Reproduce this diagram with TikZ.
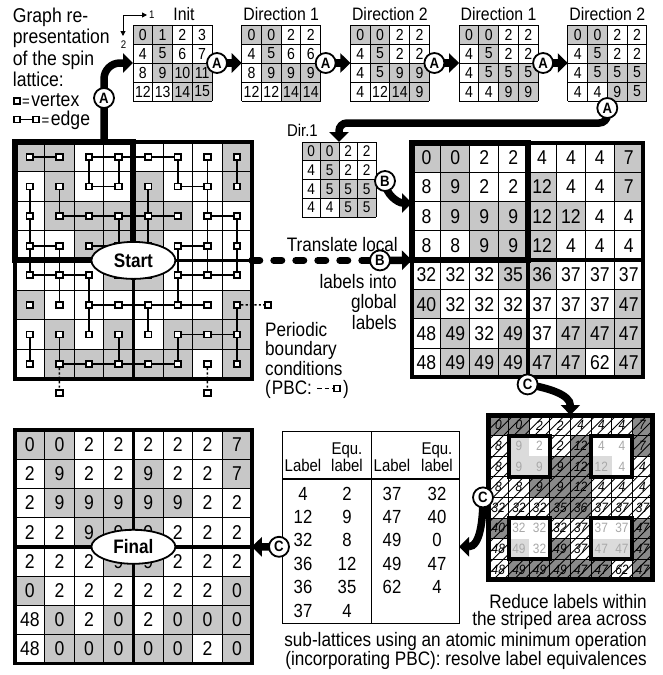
\documentclass[tikz,border=0pt]{standalone}
\usepackage{fontspec}
\setmainfont{Liberation Sans}[FakeStretch=0.88]
\usetikzlibrary{arrows.meta,shapes.geometric}
\definecolor{cellgray}{gray}{0.78}
\definecolor{darkcell}{gray}{0.54}
\definecolor{palecell}{gray}{0.86}
\definecolor{paletext}{gray}{0.66}
\newcommand\fs[1]{\fontsize{#1}{#1}\selectfont}
\def\SpinArr{{1,1,0,0,0,0,0,1,0,1,0,0,1,0,0,1,0,1,1,1,1,1,0,0,0,0,1,1,1,0,0,0,0,0,0,1,1,0,0,0,1,0,0,0,0,0,0,1,0,1,0,1,0,1,1,1,0,1,1,1,1,1,0,1}}
\def\LabArr{{0,0,2,2,4,4,4,7,8,9,2,2,12,4,4,7,8,9,9,9,12,12,4,4,8,8,9,9,12,4,4,4,32,32,32,35,36,37,37,37,40,32,32,32,37,37,37,47,48,49,32,49,37,47,47,47,48,49,49,49,47,47,62,47}}
% #1 name #2 x0 #3 y0 #4 cw #5 ch #6 n #7 fontsize #8 values
\newcommand\numgrid[8]{%
  \node[inner sep=0pt,outer sep=0pt,minimum width={#6*#4},minimum height={#6*#5},anchor=north west] (#1) at (#2,#3) {};
  \foreach \v [count=\i from 0] in {#8} {%
    \pgfmathtruncatemacro{\myR}{div(\i,#6)}%
    \pgfmathtruncatemacro{\myC}{mod(\i,#6)}%
    \pgfmathtruncatemacro{\myS}{\SpinArr[\myR*8+\myC]}%
    \ifnum\myS=1 \fill[cellgray] ({#2+\myC*#4},{#3+\myR*#5}) rectangle ++(#4,#5);\fi
    \node[inner sep=0pt,font=\fs{#7}] (#1-\myR-\myC) at ({#2+(\myC+0.5)*#4},{#3+(\myR+0.5)*#5}) {\v};
  }%
  \foreach \k in {0,...,#6} {%
    \draw[gridline] ({#2+\k*#4},#3) -- ++(0,{#6*#5});
    \draw[gridline] (#2,{#3+\k*#5}) -- ++({#6*#4},0);
  }%
}
\tikzset{
  gridline/.style={line width=1pt},
  bigarrow/.style={line width=7.5pt,-{Triangle[length=10pt,width=19pt]}},
  dashline/.style={line width=7pt,dash pattern=on 8pt off 14pt,line cap=round},
  markc/.style={circle,draw,line width=1.8pt,fill=white,minimum size=20pt,inner sep=0pt,font=\fs{15}\bfseries},
  vtx/.style={rectangle,draw,line width=1.8pt,fill=white,minimum width=6.5pt,minimum height=6pt,inner sep=0pt},
  edgeline/.style={line width=1.8pt},
  pbc/.style={line width=1.6pt,dash pattern=on 2.2pt off 2.2pt},
  pbclegend/.style={line width=1.6pt,dash pattern=on 4.5pt off 3pt},
  oval/.style={ellipse,draw,line width=1.8pt,fill=white,minimum width=84pt,minimum height=37pt,inner sep=0pt,font=\fs{19.5}\bfseries},
  txt/.style={inner sep=0pt,font=\fs{19.5}},
}
\begin{document}
\begin{tikzpicture}[x=1pt,y=-1pt]
\useasboundingbox (0,0) rectangle (663,675);

% ---------- top-left text and legend
\node[txt,font=\fs{20},anchor=base west] (t1) at (12.7,22.7) {Graph re-};
\node[txt,font=\fs{20},anchor=base west] (t2) at (12.7,43.7) {presentation};
\node[txt,font=\fs{20},anchor=base west] (t3) at (12.7,65) {of the spin};
\node[txt,font=\fs{20},anchor=base west] (t4) at (12.7,86.7) {lattice:};
\node[vtx] (lv) at (17,101) {};
\node[txt,font=\fs{20},anchor=base west] (lvt) at (22,106.7) {{\fs{15}=}\kern1.5pt vertex};
\node[vtx] (le1) at (17,119.5) {};
\node[vtx] (le2) at (36,119.5) {};
\draw[edgeline] (le1) -- (le2);
\node[txt,font=\fs{20},anchor=base west] (let) at (41.5,125) {{\fs{15}=}\kern1.5pt edge};

% ---------- axis indicator
\coordinate (axO) at (123,15);
\coordinate (axX) at (147,15);
\coordinate (axY) at (123,36);
\draw[line width=1pt,-{Triangle[length=5pt,width=5pt]}] (axO) -- (axX);
\draw[line width=1pt,-{Triangle[length=5pt,width=5pt]}] (axO) -- (axY);
\node[txt,font=\fs{11},anchor=base west] (ax1) at (149,18.5) {1};
\node[txt,font=\fs{11},anchor=base] (ax2) at (123.5,48) {2};

% ---------- small grids
\numgrid{gInit}{133}{25}{19.75}{19}{4}{16}{0,1,2,3,4,5,6,7,8,9,10,11,12,13,14,15}
\numgrid{gDa}{241.7}{25}{19.75}{19}{4}{16}{0,0,2,2,4,5,6,6,8,9,9,9,12,12,14,14}
\numgrid{gDb}{350.4}{25}{19.75}{19}{4}{16}{0,0,2,2,4,5,2,2,4,5,9,9,4,12,14,9}
\numgrid{gDc}{459.1}{25}{19.75}{19}{4}{16}{0,0,2,2,4,5,2,2,4,5,5,5,4,4,9,9}
\numgrid{gDd}{567.8}{25}{19.75}{19}{4}{16}{0,0,2,2,4,5,2,2,4,5,5,5,4,4,9,5}
\numgrid{gDir}{302}{142}{18.5}{18.75}{4}{15.5}{0,0,2,2,4,5,2,2,4,5,5,5,4,4,5,5}

\node[txt,font=\fs{18},anchor=base] (tInit) at (184,20.7) {Init};
\node[txt,font=\fs{18},anchor=base] (tDa) at (gDa.north |- 0,20.7) {Direction 1};
\node[txt,font=\fs{18},anchor=base] (tDb) at (gDb.north |- 0,20.7) {Direction 2};
\node[txt,font=\fs{18},anchor=base] (tDc) at (gDc.north |- 0,20.7) {Direction 1};
\node[txt,font=\fs{18},anchor=base] (tDd) at (gDd.north |- 0,20.7) {Direction 2};
\node[txt,font=\fs{17},anchor=base east] (tDir) at (318,136.5) {Dir.1};

% ---------- left lattice
\node[inner sep=0pt,outer sep=0pt,minimum width=236.8,minimum height=236.8,anchor=north west] (lat) at (15,142) {};
\foreach \i in {0,...,63} {%
  \pgfmathtruncatemacro{\myR}{div(\i,8)}%
  \pgfmathtruncatemacro{\myC}{mod(\i,8)}%
  \pgfmathtruncatemacro{\myS}{\SpinArr[\i]}%
  \ifnum\myS=1 \fill[cellgray] ({15+\myC*29.6},{142+\myR*29.6}) rectangle ++(29.6,29.6);\fi
}
\foreach \k in {0,...,8} {%
  \draw[gridline] ({15+\k*29.6},142) -- ++(0,236.8);
  \draw[gridline] (15,{142+\k*29.6}) -- ++(236.8,0);
}
\draw[line width=3.5pt] (lat.north west) rectangle (lat.south east);
\draw[line width=3.5pt] (lat.north) -- (lat.south);
\draw[line width=3.5pt] (lat.west) -- (lat.east);
\draw[line width=6pt] (lat.north west) rectangle (lat.center);

\foreach \r in {1,...,8} \foreach \c in {1,...,8} {%
  \node[vtx] (v-\r-\c) at ({15+(\c-0.5)*29.6},{142+(\r-0.5)*29.6}) {};
}
\foreach \a/\b in {1-1/1-2,1-3/1-4,1-4/1-5,1-5/1-6,2-3/2-4,2-6/2-7,3-2/3-3,3-3/3-4,3-4/3-5,3-5/3-6,3-7/3-8,4-1/4-2,4-3/4-4,4-6/4-7,5-1/5-2,5-2/5-3,5-6/5-7,5-7/5-8,6-3/6-4,6-4/6-5,6-5/6-6,6-6/6-7,7-6/7-7,7-7/7-8,8-2/8-3,8-3/8-4,8-4/8-5,8-5/8-6,
  1-3/2-3,1-4/2-4,1-6/2-6,1-7/2-7,1-8/2-8,2-1/3-1,3-1/4-1,2-2/3-2,2-5/3-5,2-7/3-7,3-4/4-4,3-5/4-5,3-7/4-7,3-8/4-8,4-1/5-1,4-2/5-2,4-6/5-6,4-7/5-7,4-8/5-8,5-2/6-2,5-3/6-3,5-6/6-6,6-3/7-3,6-5/7-5,6-8/7-8,7-8/8-8,7-1/8-1,7-2/8-2,7-4/8-4,7-6/8-6}
  {\draw[edgeline] (v-\a) -- (v-\b);}
\node[vtx] (ext1) at (268,304.8) {};
\node[vtx] (ext2) at (59.4,393) {};
\node[vtx] (ext3) at (207.4,393) {};
\draw[pbc] (v-6-8) -- (ext1);
\draw[pbc] (v-8-2) -- (ext2);
\draw[pbc] (v-8-7) -- (ext3);

% ---------- PBC text
\node[txt,anchor=base west] (p1) at (265,336) {Periodic};
\node[txt,anchor=base west] (p2) at (265,355.5) {boundary};
\node[txt,anchor=base west] (p3) at (265,375) {conditions};
\node[txt,anchor=base west] (p4) at (265,394.5) {(\kern1pt PBC:};
\node[vtx] (pv) at (337,388.5) {};
\coordinate (pa) at (317,388.5);
\draw[pbclegend] (pa) -- (pv);
\node[txt,anchor=base west] (p5) at (343,394.5) {)};

% ---------- translate text
\node[txt,anchor=base east] (tr1) at (398,251.7) {Translate local};
\node[txt,anchor=base east] (tr2) at (397,288) {labels into};
\node[txt,anchor=base east] (tr3) at (397,308) {global};
\node[txt,anchor=base east] (tr4) at (397,329) {labels};

% ---------- right grid (global labels)
\numgrid{gR}{412}{143}{28.9}{29.3}{8}{20}{0,0,2,2,4,4,4,7,8,9,2,2,12,4,4,7,8,9,9,9,12,12,4,4,8,8,9,9,12,4,4,4,32,32,32,35,36,37,37,37,40,32,32,32,37,37,37,47,48,49,32,49,37,47,47,47,48,49,49,49,47,47,62,47}
\draw[line width=4pt] (gR.north west) rectangle (gR.south east);
\draw[line width=4pt] (gR.north) -- (gR.south);
\draw[line width=4pt] (gR.west) -- (gR.east);
\draw[line width=6pt] (gR.north west) rectangle (gR.center);

% ---------- final grid
\numgrid{gF}{15}{430}{29.6}{29.2}{8}{20}{0,0,2,2,2,2,2,7,2,9,2,2,9,2,2,7,2,9,9,9,9,9,2,2,2,2,9,9,9,2,2,2,2,2,2,9,9,2,2,2,0,2,2,2,2,2,2,0,48,0,2,0,2,0,0,0,48,0,0,0,0,0,2,0}
\draw[line width=3.5pt] (gF.north west) rectangle (gF.south east);
\draw[line width=3.5pt] (gF.north) -- (gF.south);
\draw[line width=3.5pt] (gF.west) -- (gF.east);

% ---------- striped grid
\node[inner sep=0pt,outer sep=0pt,minimum width=164.8,minimum height=164.8,anchor=north west] (gS) at (488,415) {};
\foreach \i in {0,...,63} {%
  \pgfmathtruncatemacro{\myR}{div(\i,8)}%
  \pgfmathtruncatemacro{\myC}{mod(\i,8)}%
  \pgfmathtruncatemacro{\myS}{\SpinArr[\i]}%
  \pgfmathtruncatemacro{\myV}{\LabArr[\i]}%
  \pgfmathtruncatemacro{\myIn}{and(or(mod(\myR,4)==1,mod(\myR,4)==2),or(mod(\myC,4)==1,mod(\myC,4)==2))}%
  \ifnum\myS=1 \fill[darkcell] ({488+\myC*20.6},{415+\myR*20.6}) rectangle ++(20.6,20.6);\fi
  \ifnum\myIn=0
    \node[inner sep=0pt,font=\fs{13.5}\itshape] (gS-\myR-\myC) at ({488+(\myC+0.5)*20.6},{415+(\myR+0.5)*20.6}) {\myV};
  \fi
}
\begin{scope}
  \clip (488,415) rectangle (652.8,579.8);
  \foreach \k in {0,...,32} {%
    \pgfmathsetmacro{\hc}{908.15+\k*10.3}%
    \draw[line width=0.9pt] ({\hc-700},700) -- ({\hc-300},300);
  }
\end{scope}
\foreach \k in {0,...,8} {%
  \draw[line width=0.8pt] ({488+\k*20.6},415) -- ++(0,164.8);
  \draw[line width=0.8pt] (488,{415+\k*20.6}) -- ++(164.8,0);
}
\draw[line width=1.6pt] (gS.north) -- (gS.south);
\draw[line width=1.6pt] (gS.west) -- (gS.east);
\foreach \rb/\cb in {1/1,1/5,5/1,5/5} {%
  \foreach \dr in {0,1} \foreach \dc in {0,1} {%
    \pgfmathtruncatemacro{\myR}{\rb+\dr}%
    \pgfmathtruncatemacro{\myC}{\cb+\dc}%
    \pgfmathtruncatemacro{\myS}{\SpinArr[\myR*8+\myC]}%
    \pgfmathtruncatemacro{\myV}{\LabArr[\myR*8+\myC]}%
    \ifnum\myS=1 \fill[palecell] ({488+\myC*20.6},{415+\myR*20.6}) rectangle ++(20.6,20.6);
    \else \fill[white] ({488+\myC*20.6},{415+\myR*20.6}) rectangle ++(20.6,20.6);\fi
    \node[inner sep=0pt,font=\fs{13.5},text=paletext] (gSb-\myR-\myC) at ({488+(\myC+0.5)*20.6},{415+(\myR+0.5)*20.6}) {\myV};
  }
  \draw[line width=4pt] ({488+\cb*20.6},{415+\rb*20.6}) rectangle ++(41.2,41.2);
}
\draw[line width=5pt] (gS.north west) rectangle (gS.south east);

% ---------- table
\node[draw,line width=1.3pt,inner sep=0pt,minimum width=177pt,minimum height=192pt,anchor=north west] (tab) at (282,431) {};
\draw[line width=1.3pt] (tab.north) -- (tab.south);
\coordinate (tabHL) at (282,479);
\coordinate (tabHR) at (459,479);
\draw[line width=1.3pt] (tabHL) -- (tabHR);
\node[txt,font=\fs{17},anchor=base] (h1) at (303,471) {Label};
\node[txt,font=\fs{17},anchor=base] (h2) at (347,454) {Equ.};
\node[txt,font=\fs{17},anchor=base] (h3) at (347,471) {label};
\node[txt,font=\fs{17},anchor=base] (h4) at (392,471) {Label};
\node[txt,font=\fs{17},anchor=base] (h5) at (437,454) {Equ.};
\node[txt,font=\fs{17},anchor=base] (h6) at (437,471) {label};
\foreach \a/\b [count=\k from 0] in {4/2,12/9,32/8,36/12,36/35,37/4} {%
  \node[txt,font=\fs{19},anchor=base] (tla\k) at (303,{500+\k*23.4}) {\a};
  \node[txt,font=\fs{19},anchor=base] (tlb\k) at (347,{500+\k*23.4}) {\b};
}
\foreach \a/\b [count=\k from 0] in {37/32,47/40,49/0,49/47,62/4} {%
  \node[txt,font=\fs{19},anchor=base] (tra\k) at (392,{500+\k*23.4}) {\a};
  \node[txt,font=\fs{19},anchor=base] (trb\k) at (437,{500+\k*23.4}) {\b};
}

% ---------- bottom right text
\node[txt,anchor=base east] (r1) at (647,608.3) {Reduce labels within};
\node[txt,anchor=base east] (r2) at (647,625.5) {the striped area across};
\node[txt,anchor=base east] (r3) at (647,646.7) {sub-lattices using an atomic minimum operation};
\node[txt,anchor=base east] (r4) at (647,665) {(incorporating PBC): resolve label equivalences};

% ---------- arrows
\coordinate (aStart) at (104,142);
\draw[bigarrow,rounded corners=16pt] (aStart) |- (gInit.west);
\coordinate (pA1) at ([xshift=5pt]gInit.east);
\coordinate (pA2) at ([xshift=5pt]gDa.east);
\coordinate (pA3) at ([xshift=5pt]gDb.east);
\coordinate (pA4) at ([xshift=5pt]gDc.east);
\coordinate (pA5) at ([yshift=-7pt]gDd.south);
\draw[bigarrow] (pA1) -- (gDa.west);
\draw[bigarrow] (pA2) -- (gDb.west);
\draw[bigarrow] (pA3) -- (gDc.west);
\draw[bigarrow] (pA4) -- (gDd.west);
\coordinate (turn) at (339,123);
\draw[bigarrow,rounded corners=8pt] (pA5) |- (turn) -- (gDir.north);
\coordinate (pB1) at (385,181);
\coordinate (bTip) at (412,203);
\draw[bigarrow] (pB1) to[out=-90,in=180] (bTip);
\coordinate (pB2) at (380,260.4);
\draw[dashline] (lat.east) -- (pB2);
\draw[bigarrow] (pB2) -- (gR.west);
\coordinate (pC1) at ([yshift=-7pt]gR.south);
\draw[bigarrow] (pC1) to[out=-10,in=90] (gS.north);
\coordinate (pC2) at ([xshift=-5pt]gS.west);
\coordinate (tabR) at (459,546.8);
\draw[bigarrow] (pC2) to[out=-90,in=0] (tabR);
\coordinate (pC3) at (279,546.8);
\draw[bigarrow] (pC3) -- (gF.east);

% ---------- ovals and markers
\node[oval] (start) at (lat.center) {Start};
\node[oval,minimum height=34pt] (final) at (gF.center) {Final};
\node[markc] (cA0) at (104,98) {A};
\node[markc] (cA1) at (pA1) {A};
\node[markc] (cA2) at (pA2) {A};
\node[markc] (cA3) at (pA3) {A};
\node[markc] (cA4) at (pA4) {A};
\node[markc] (cA5) at (pA5) {A};
\node[markc] (cB1) at (pB1) {B};
\node[markc] (cB2) at (pB2) {B};
\node[markc] (cC1) at (pC1) {C};
\node[markc] (cC2) at (pC2) {C};
\node[markc] (cC3) at (pC3) {C};
\end{tikzpicture}
\end{document}
